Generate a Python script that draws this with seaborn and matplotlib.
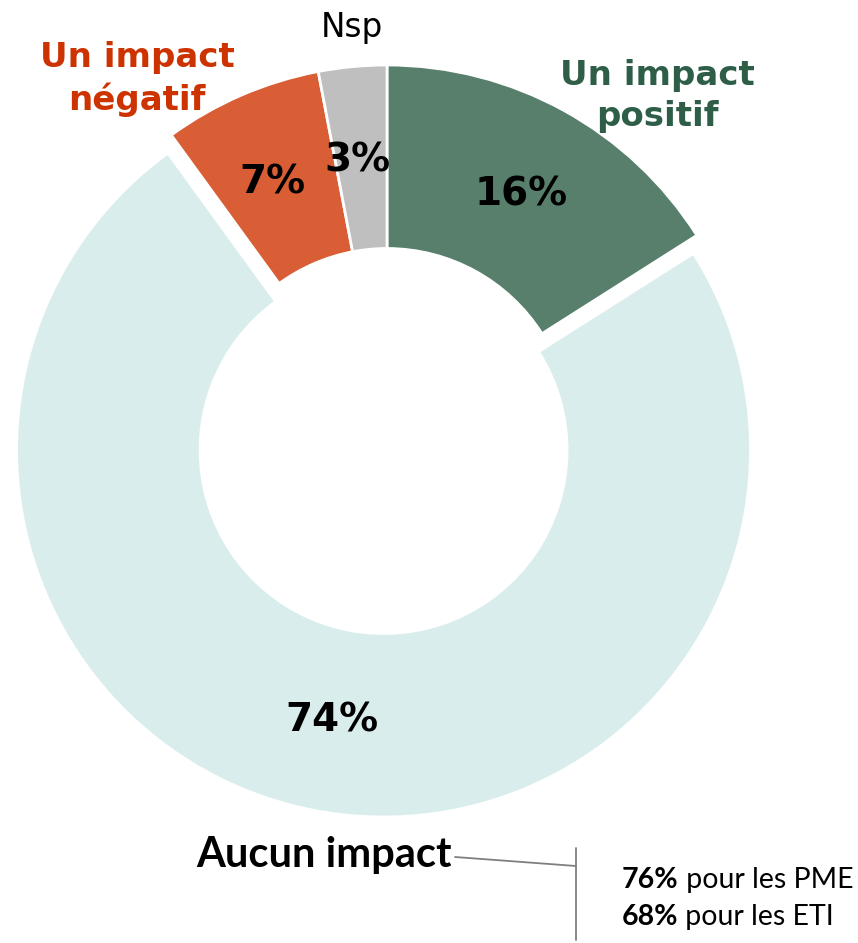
import matplotlib
matplotlib.use("Agg")
import matplotlib.pyplot as plt
import seaborn as sns

# Données
categories = ["Un impact positif", "Aucun impact", "Un impact négatif", "Nsp"]
valeurs = [16, 74, 7, 3]
pct_labels = ["16%", "74%", "7%", "3%"]
detail_pct = ["76%", "68%"]
detail_txt = [" pour les PME", " pour les ETI"]

couleurs = ["#577F6B", "#DAEDED", "#D95E35", "#BFBFBF"]

sns.set_theme(style="white")
plt.rcParams['font.family'] = ['DejaVu Sans']

W, H = 858, 943
R = 367.0
cx, cy = 387, 432  # centre en pixels (depuis le haut)

fig = plt.figure(figsize=(W / 100, H / 100), dpi=100)
ax = fig.add_axes([0, 0, 1, 1])
ax.axis('off')

def px(x, y):
    # pixels -> coordonnées données
    return (x - cx) / R, (cy - y) / R

wedges, _ = ax.pie(valeurs, colors=couleurs, startangle=90, counterclock=False,
                   explode=[0, 0.05, 0, 0], radius=1.0, center=(0, 0),
                   wedgeprops=dict(width=0.5, edgecolor="white", linewidth=2))
ax.set_xlim(-cx / R, (W - cx) / R)
ax.set_ylim(-(H - cy) / R, cy / R)

# Pourcentages
pos_pct = [(521, 194), (332, 721), (272, 183), (357, 161)]
for lab, (x, y) in zip(pct_labels, pos_pct):
    ax.text(*px(x, y), lab, ha="center", va="center", fontsize=28,
            fontweight="bold", color="black")

# Libellés
ax.text(*px(657, 96), "Un impact\npositif", ha="center", va="center",
        fontsize=24.5, fontweight="bold", color="#2E5E48", linespacing=1.32)
ax.text(*px(137, 79), "Un impact\nnégatif", ha="center", va="center",
        fontsize=24.5, fontweight="bold", color="#CC3300", linespacing=1.28)
ax.text(*px(352, 28), "Nsp", ha="center", va="center", fontsize=23.5,
        color="black")
ax.text(*px(452, 855), "Aucun impact", ha="right", va="center",
        fontsize=30, fontweight="bold", color="black", family="Lato")

# Connecteur
x0, y0 = px(455, 857)
x1, y1 = px(576, 866)
ax.plot([x0, x1], [y0, y1], color="#7F7F7F", lw=1.3)
xa, ya = px(576, 848)
xb, yb = px(576, 940)
ax.plot([xa, xb], [ya, yb], color="#7F7F7F", lw=1.3)

# Détail PME / ETI
fig.canvas.draw()
rend = fig.canvas.get_renderer()
for i, (p, t) in enumerate(zip(detail_pct, detail_txt)):
    yy = 880 + i * 37
    tb = ax.text(*px(622, yy), p, ha="left", va="center", fontsize=20.5,
                 fontweight="bold", family="Lato", color="black")
    bb = tb.get_window_extent(renderer=rend)
    ax.text(*px(bb.x1, yy), t, ha="left", va="center", fontsize=20.5,
            family="Lato", color="black")

fig.savefig("out.png", dpi=100)
